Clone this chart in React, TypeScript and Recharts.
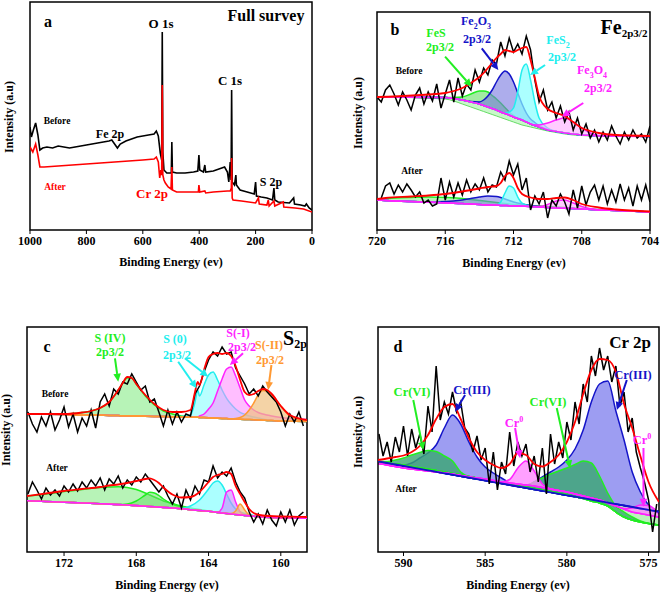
import React from 'react';
import { ComposedChart, Line, Area, XAxis, YAxis, ReferenceArea, ReferenceLine } from 'recharts';

const FONT = '"Liberation Serif", "Times New Roman", serif';
const RED = '#ff0000';
const GREEN = '#22ee22';
const BLUE = '#1414c8';
const CYAN = '#22eeee';
const MAGENTA = '#ff22ff';
const ORANGE = '#ff9933';

// ---------- (a) full survey ----------
const surveyTicks = [1000, 800, 600, 400, 200, 0];
const surveyBeforeE = [1000, 995, 988, 980, 972, 965, 955, 940, 920, 900, 880, 860, 840, 820, 800, 780, 760, 740, 720, 710, 700, 690, 680, 660, 640, 620, 600, 580, 560, 552, 545, 538, 533, 531, 529, 525, 515, 505, 499, 497, 495, 480, 450, 420, 405, 401, 398, 385, 380, 377, 350, 320, 310, 300, 295, 290, 287, 285, 283, 275, 270, 268, 255, 230, 205, 200, 197, 180, 160, 140, 135, 132, 120, 80, 65, 62, 40, 25, 20, 10, 0];
const surveyBeforeI = [103, 93, 100, 107, 95, 80, 82, 83, 82, 84, 83, 82, 83, 84, 85, 86, 87, 88, 89, 90, 86, 82, 86, 89, 91, 93, 94, 95, 96, 99, 94, 77, 70, 198, 78, 60, 57, 57, 57, 88, 58, 57, 57, 58, 59, 75, 60, 58, 65, 58, 59, 62, 63, 58, 48, 68, 50, 140, 48, 45, 55, 45, 40, 38, 36, 48, 34, 33, 32, 30, 42, 30, 28, 27, 32, 26, 25, 24, 26, 22, 20];
const surveyAfterE = [1000, 990, 980, 972, 965, 950, 900, 850, 800, 750, 700, 650, 600, 560, 552, 545, 540, 536, 533, 531, 529, 525, 520, 510, 500, 497, 495, 480, 450, 420, 403, 401, 398, 380, 377, 350, 300, 290, 286, 285, 283, 280, 250, 200, 190, 187, 160, 155, 152, 135, 132, 102, 100, 60, 30, 0];
const surveyAfterI = [83, 78, 86, 75, 63, 63, 64, 65, 66, 67, 68, 69, 70, 71, 73, 68, 52, 60, 55, 145, 55, 50, 47, 43, 41, 63, 40, 38, 38, 38, 38, 45, 38, 39, 37, 38, 39, 39, 42, 72, 32, 30, 29, 27, 32, 26, 25, 30, 24, 29, 24, 28, 23, 22, 21, 18];

// ---------- (b) Fe 2p3/2 ----------
const feTicks = [720, 716, 712, 708, 704];
const feBeforeRaw = [[720, 133], [719.75, 128], [719.5, 140], [719.25, 145], [719, 136], [718.75, 125], [718.5, 138], [718.25, 130], [718, 120], [717.75, 135], [717.5, 142], [717.25, 126], [717, 138], [716.75, 129], [716.5, 146], [716.25, 122], [716, 136], [715.75, 150], [715.5, 128], [715.25, 152], [715, 134], [714.75, 146], [714.5, 140], [714.25, 160], [714, 148], [713.75, 162], [713.5, 155], [713.25, 170], [713, 166], [712.75, 188], [712.5, 174], [712.25, 192], [712, 178], [711.75, 186], [711.5, 176], [711.25, 194], [711, 180], [710.75, 150], [710.5, 128], [710.25, 140], [710, 120], [709.75, 128], [709.5, 112], [709.25, 124], [709, 108], [708.75, 118], [708.5, 100], [708.25, 112], [708, 96], [707.75, 106], [707.5, 92], [707.25, 100], [707, 88], [706.75, 98], [706.5, 90], [706.25, 104], [706, 94], [705.75, 86], [705.5, 98], [705.25, 90], [705, 100], [704.75, 92], [704.5, 96], [704.25, 88], [704, 104]];
const feAfterRaw = [[719.75, 32], [719.5, 44], [719.25, 47], [719, 36], [718.75, 45], [718.5, 38], [718.25, 46], [718, 40], [717.75, 33], [717.5, 38], [717.25, 27], [717, 30], [716.75, 24], [716.5, 26], [716.25, 52], [716, 30], [715.75, 48], [715.5, 33], [715.25, 47], [715, 35], [714.75, 50], [714.5, 38], [714.25, 46], [714, 40], [713.75, 52], [713.5, 38], [713.25, 45], [713, 43], [712.75, 58], [712.5, 50], [712.25, 69], [712, 55], [711.75, 66], [711.5, 40], [711.25, 52], [711, 20], [710.75, 34], [710.5, 26], [710.25, 38], [710, 12], [709.75, 30], [709.5, 24], [709.25, 36], [709, 28], [708.75, 16], [708.5, 40], [708.25, 22], [708, 44], [707.75, 25], [707.5, 38], [707.25, 45], [707, 30], [706.75, 44], [706.5, 26], [706.25, 40], [706, 28], [705.75, 46], [705.5, 30], [705.25, 42], [705, 24], [704.75, 44], [704.5, 30], [704.25, 45], [704, 28]];
const feBE = [720, 716, 715.5, 715, 714.5, 714, 713.75, 713.5, 713.25, 713, 712.75, 712.5, 712.25, 712, 711.75, 711.5, 711.25, 711, 710.75, 710.5, 710, 709.5, 709, 708.5, 708, 707.5, 707, 706, 704];
const feBg = [133, 132.5, 131.5, 130, 128, 126, 124.5, 123, 121.5, 120, 118, 116.5, 115, 113, 111.5, 110, 108, 106, 104.5, 103, 100, 98.5, 97, 96, 95, 94.5, 94, 94, 93.5];
const feLowBg = [133, 131, 129, 126, 123, 120, 118.5, 117, 115.5, 114, 112.5, 111, 109.5, 108, 106.5, 105, 104, 103, 102, 101, 99, 97.5, 96, 95, 94.5, 94, 93.8, 93.6, 93.5];
const feFeS = [133, 132.5, 132.5, 133, 136, 139, 139, 138, 134.5, 131, 127, 122.5, 118, 114.5, 111.5, 110, 108, 106, 104.5, 103, 100, 98.5, 97, 96, 95, 94.5, 94, 94, 93.5];
const feFe2O3 = [133, 132.5, 131.5, 130, 128.5, 128, 130, 134, 140, 148, 155, 159, 156, 148, 137, 126, 117, 111, 107.5, 104.5, 100.5, 98.5, 97, 96, 95, 94.5, 94, 94, 93.5];
const feFeS2 = [133, 132.5, 131.5, 130, 128, 126, 124.5, 123, 121.5, 120, 118, 117, 118, 122, 138, 160, 166, 150, 128, 112, 102, 98.5, 97, 96, 95, 94.5, 94, 94, 93.5];
const feFe3O4 = [133, 132.5, 131.5, 130, 128, 126, 124.5, 123, 121.5, 120, 118, 116.5, 115, 113, 111.5, 110, 108, 106, 105, 105, 107, 110, 112, 108, 102, 97, 94.5, 94, 93.5];
const feFitB = [133, 137, 139, 142, 147, 153, 157, 162, 167, 172, 176, 180, 179, 178, 180, 182, 183, 170, 152, 134, 121, 117, 114, 108, 102, 99, 97, 95, 94];
const feAE = [720, 719.5, 718, 717, 716, 715, 714.5, 714, 713.5, 713, 712.75, 712.5, 712.25, 712, 711.75, 711.5, 711, 710.5, 710, 709.5, 709, 708.5, 708, 707, 706, 704];
const feBaseA = [30, 29.5, 28.5, 28, 27, 26.5, 26, 25.5, 25, 24.8, 24.6, 24.5, 24.3, 24.2, 24, 23.8, 23.5, 23, 22.5, 22, 21.8, 21.5, 21, 20, 19.5, 18];
const feGreenA = [31, 31.5, 32.5, 33, 32.5, 31.5, 30.5, 29.5, 28.5, 27.5, 27, 26.5, 26, 25.5, 25.2, 25, 24.5, 24, 23.5, 23, 22.5, 22, 21.5, 20.5, 19.8, 18];
const feBlueA = [30, 29.5, 28.5, 28.3, 28.5, 30, 31.5, 33, 34, 33.5, 32.5, 31, 29.5, 28, 27, 26, 24.5, 23.5, 22.8, 22.2, 21.8, 21.5, 21, 20, 19.5, 18];
const feCyanA = [30, 29.5, 28.5, 28, 27, 26.5, 26, 25.5, 25, 25, 28, 37, 44, 42, 33, 27, 24, 23, 22.5, 22, 21.8, 21.5, 21, 20, 19.5, 18];
const feMagA = [30, 29.5, 28.5, 28, 27, 26.5, 26, 25.5, 25, 24.8, 24.6, 24.5, 24.3, 24.2, 24, 23.8, 23.5, 23.5, 25.5, 29, 30, 27, 23.5, 20.3, 19.5, 18];
const feFitA = [31, 32, 33.5, 34.5, 36, 38.5, 40, 41.5, 43, 44, 47, 54, 57, 52, 42, 36, 32.5, 31, 31, 32, 32.5, 30, 26, 22.5, 20.5, 18.5];

// ---------- (c) S 2p ----------
const sTicks = [172, 168, 164, 160];
const sBeforeRaw = [[174, 140], [173.75, 128], [173.5, 120], [173.25, 135], [173, 126], [172.75, 140], [172.5, 122], [172.25, 132], [172, 145], [171.75, 125], [171.5, 138], [171.25, 120], [171, 134], [170.75, 126], [170.5, 142], [170.25, 124], [170, 150], [169.75, 158], [169.5, 146], [169.25, 163], [169, 158], [168.75, 170], [168.5, 168], [168.25, 178], [168, 170], [167.75, 162], [167.5, 166], [167.25, 150], [167, 153], [166.75, 140], [166.5, 126], [166.25, 142], [166, 128], [165.75, 140], [165.5, 130], [165.25, 138], [165, 136], [164.75, 158], [164.5, 166], [164.25, 180], [164, 192], [163.75, 200], [163.5, 196], [163.25, 205], [163, 198], [162.75, 200], [162.5, 184], [162.25, 176], [162, 168], [161.75, 158], [161.5, 163], [161.25, 156], [161, 166], [160.75, 160], [160.5, 155], [160.25, 150], [160, 140], [159.75, 126], [159.5, 138], [159.25, 130], [159, 140], [158.75, 126]];
const sAfterRaw = [[174, 58], [173.75, 70], [173.5, 62], [173.25, 53], [173, 64], [172.75, 57], [172.5, 62], [172.25, 56], [172, 66], [171.75, 60], [171.5, 68], [171.25, 61], [171, 70], [170.75, 64], [170.5, 72], [170.25, 66], [170, 74], [169.75, 62], [169.5, 73], [169.25, 68], [169, 76], [168.75, 64], [168.5, 72], [168.25, 67], [168, 75], [167.75, 70], [167.5, 78], [167.25, 72], [167, 66], [166.75, 60], [166.5, 66], [166.25, 56], [166, 48], [165.75, 58], [165.5, 44], [165.25, 62], [165, 52], [164.75, 66], [164.5, 58], [164.25, 72], [164, 70], [163.75, 86], [163.5, 74], [163.25, 80], [163, 76], [162.75, 84], [162.5, 70], [162.25, 60], [162, 54], [161.75, 40], [161.5, 30], [161.25, 38], [161, 28], [160.75, 42], [160.5, 32], [160.25, 26], [160, 40], [159.75, 30], [159.5, 42], [159.25, 27], [159, 36], [158.75, 40]];
const sBE = [174.05, 172, 171, 170.5, 170, 169.5, 169, 168.75, 168.5, 168.25, 168, 167.5, 167, 166.5, 166, 165.5, 165, 164.75, 164.6, 164.5, 164.25, 164, 163.75, 163.5, 163.25, 163, 162.75, 162.5, 162.25, 162, 161.75, 161.5, 161.25, 161, 160.75, 160.5, 160, 159.5, 158.55];
const sBgB = [138, 137.5, 137, 137, 136.8, 136.6, 136.4, 136.3, 136.2, 136.1, 136, 135.8, 135.6, 135.4, 135.2, 135, 134.8, 134.7, 134.65, 134.6, 134.4, 134.2, 134, 133.8, 133.6, 133.4, 133.2, 133, 132.8, 132.6, 132.4, 132.2, 132, 131.8, 131.6, 131.4, 131, 130.8, 130.5];
const sIVB = [138, 138, 139.5, 141, 144, 150, 162, 169, 174, 174, 168, 156, 147, 141, 138, 136, 134.8, 134.7, 134.65, 134.6, 134.4, 134.2, 134, 133.8, 133.6, 133.4, 133.2, 133, 132.8, 132.6, 132.4, 132.2, 132, 131.8, 131.6, 131.4, 131, 130.8, 130.5];
const s0B = [138, 137.5, 137, 137, 136.8, 136.6, 136.4, 136.3, 136.2, 136.1, 136, 135.8, 135.6, 135.4, 135.2, 135.5, 137, 150, 162, 156, 167, 177, 180, 172, 162, 153.7, 147.7, 143, 139.7, 137.7, 136, 135, 134, 133, 132.2, 131.6, 131, 130.8, 130.5];
const sM1B = [138, 137.5, 137, 137, 136.8, 136.6, 136.4, 136.3, 136.2, 136.1, 136, 135.8, 135.6, 135.4, 135.2, 135, 134.8, 134.7, 134.65, 136, 138, 143, 149, 161, 173, 183, 185, 176, 164, 152, 146, 142, 139.5, 138, 137, 136, 134.5, 133.5, 132.5];
const sM2B = [138, 137.5, 137, 137, 136.8, 136.6, 136.4, 136.3, 136.2, 136.1, 136, 135.8, 135.6, 135.4, 135.2, 135, 134.8, 134.7, 134.65, 134.6, 134.4, 134.2, 134, 133.8, 133.6, 133.4, 133.2, 133.5, 134.5, 137, 142, 149, 157, 161.5, 161, 157, 146, 136, 131];
const sFitB = [138, 138, 139.5, 141, 144, 150, 162, 169, 175, 174, 168, 157, 148, 142, 140, 140, 142, 160, 170, 167, 182, 195, 198, 199, 198, 199, 196, 186, 172, 160, 157, 158, 161, 163, 162, 158, 146, 137, 132];
const sAE = [174.05, 173, 172, 171, 170, 169.5, 169, 168.5, 168, 167.5, 167.25, 167, 166.75, 166.5, 166, 165.5, 165, 164.5, 164, 163.75, 163.5, 163.25, 163, 162.75, 162.5, 162.25, 162, 161.75, 161.5, 161, 160, 159, 158.55];
const sBaseA = [51.3, 50.5, 49.8, 49, 48.3, 47.9, 47.4, 47, 46.4, 45.8, 45.5, 45.2, 44.9, 44.6, 44, 43.2, 42.3, 41.5, 40.7, 40.2, 39.6, 39, 38.5, 38, 37.5, 37, 36.6, 36.2, 35.8, 35, 34.3, 33.9, 33.7];
const sIVBroadA = [56, 58, 60.5, 62.5, 64.5, 65, 65.3, 64.5, 62.5, 59, 57, 55, 53, 51, 48.5, 46, 44, 42.5, 41, 40.2, 39.6, 39, 38.5, 38, 37.5, 37, 36.6, 36.2, 35.8, 35, 34.3, 33.9, 33.7];
const sIVNarrowA = [51.3, 50.5, 49.8, 49, 48.3, 47.9, 47.4, 48, 51, 57, 59.7, 59, 56.5, 53, 48, 45, 42.5, 41.5, 40.7, 40.2, 39.6, 39, 38.5, 38, 37.5, 37, 36.6, 36.2, 35.8, 35, 34.3, 33.9, 33.7];
const s0A = [51.3, 50.5, 49.8, 49, 48.3, 47.9, 47.4, 47, 46.4, 45.8, 45.5, 45.2, 44.9, 44.6, 44, 43.5, 46, 52, 63, 69, 71, 67, 58, 49, 43, 40, 38.5, 37.5, 36.5, 35.3, 34.3, 33.9, 33.7];
const sM1A = [51.3, 50.5, 49.8, 49, 48.3, 47.9, 47.4, 47, 46.4, 45.8, 45.5, 45.2, 44.9, 44.6, 44, 43.2, 42.3, 41.5, 40.7, 40.2, 39.8, 44, 60, 62, 50, 40, 37, 36.2, 35.8, 35, 34.3, 33.9, 33.7];
const sM2A = [51.3, 50.5, 49.8, 49, 48.3, 47.9, 47.4, 47, 46.4, 45.8, 45.5, 45.2, 44.9, 44.6, 44, 43.2, 42.3, 41.5, 40.7, 40.2, 39.6, 39, 38.5, 38.5, 41, 48, 42, 37, 35.8, 35, 34.3, 33.9, 33.7];
const sFitA = [56, 58.5, 61, 63, 65, 66.5, 67.5, 69, 71, 73, 73.7, 72, 69, 64.5, 57.5, 54.5, 55, 60, 70, 75, 77, 78, 80, 78, 66, 58, 50, 43, 39, 36.5, 35.5, 35.2, 35];

// ---------- (d) Cr 2p ----------
const crTicks = [590, 585, 580, 575];
const crRaw = [[591.5, 118], [591.25, 96], [591, 110], [590.75, 90], [590.5, 115], [590.25, 100], [590, 126], [589.75, 96], [589.5, 123], [589.25, 104], [589, 118], [588.75, 98], [588.5, 146], [588.25, 120], [588, 186], [587.75, 132], [587.5, 150], [587.25, 138], [587, 160], [586.75, 140], [586.5, 150], [586.25, 124], [586, 118], [585.75, 100], [585.5, 116], [585.25, 92], [585, 104], [584.75, 68], [584.5, 100], [584.25, 62], [584, 90], [583.75, 78], [583.5, 120], [583.25, 86], [583, 110], [582.75, 96], [582.5, 108], [582.25, 80], [582, 96], [581.75, 70], [581.5, 104], [581.25, 58], [581, 118], [580.75, 88], [580.5, 110], [580.25, 94], [580, 130], [579.75, 112], [579.5, 150], [579.25, 128], [579, 168], [578.75, 150], [578.5, 196], [578.25, 176], [578, 204], [577.75, 182], [577.5, 196], [577.25, 170], [577, 186], [576.75, 146], [576.5, 160], [576.25, 120], [576, 134], [575.75, 100], [575.5, 84], [575.25, 70], [575, 52], [574.75, 20], [574.5, 48]];
const crE = [591.56, 591, 590.5, 590, 589.5, 589, 588.5, 588, 587.5, 587, 586.5, 586, 585.5, 585, 584.5, 584, 583.5, 583, 582.5, 582, 581.5, 581, 580.5, 580, 579.5, 579, 578.5, 578, 577.5, 577, 576.5, 576, 575.5, 575, 574.36];
const crBlueBase = [90.6, 89, 87.5, 86.1, 84.6, 83.1, 81.7, 80.2, 78.7, 77.3, 75.8, 74.3, 72.9, 71.4, 69.9, 68.5, 67, 65.5, 64.1, 62.6, 61.1, 59.7, 58.2, 56.7, 55.3, 53.8, 52.3, 50.9, 49.4, 47.9, 46.5, 45, 43.5, 42.1, 40.2];
const crGreenBase = [90.5, 89, 88, 87, 85.5, 84, 83, 81.5, 80, 78.5, 77, 75.5, 74, 72.5, 71, 69.5, 68, 66.5, 65, 63.5, 62, 60.5, 59, 57.5, 55.5, 53.5, 51, 49, 46, 40, 35, 32, 30, 28.5, 27];
const crMagBase = [88.5, 87, 85.5, 84, 83, 82, 81, 80, 79, 78, 76.5, 75, 74, 73, 71.5, 70, 69, 68, 67, 66, 64.5, 63, 61.5, 60, 58, 56, 54, 52, 49, 46, 43, 40, 38.5, 37, 35];
const cr6L = [91, 90.5, 92, 94, 97, 99.5, 101.5, 100.5, 96, 91, 80, 75.5, 74, 72.5, 71, 69.5, 68, 66.5, 65, 63.5, 62, 60.5, 59, 57.5, 55.5, 53.5, 51, 49, 46, 40, 35, 32, 30, 28.5, 27];
const cr3L = [90.6, 89, 88, 87, 89, 94, 99, 107, 124, 137, 128, 110, 95, 85, 79, 74, 69, 66, 64.1, 62.6, 61.1, 59.7, 58.2, 56.7, 55.3, 53.8, 52.3, 50.9, 49.4, 47.9, 46.5, 45, 43.5, 42.1, 40.2];
const cr0L = [88.5, 87, 85.5, 84, 83, 82, 81, 80, 79, 78, 76.5, 75, 74, 73, 71.5, 70, 72.5, 84, 91, 81, 68, 63, 61.5, 60, 58, 56, 54, 52, 49, 46, 43, 40, 38.5, 37, 35];
const cr6R = [90.5, 89, 88, 87, 85.5, 84, 83, 81.5, 80, 78.5, 77, 75.5, 74, 72.5, 71, 69.5, 68, 66.5, 67, 70, 74, 78, 81, 84, 87.5, 91, 89, 76, 59, 46, 40, 35, 31, 28.5, 27];
const cr3R = [90.6, 89, 87.5, 86.1, 84.6, 83.1, 81.7, 80.2, 78.7, 77.3, 75.8, 74.3, 72.9, 71.4, 69.9, 68.5, 67, 65.5, 66, 70, 75, 80, 85, 92, 103, 122, 150, 168, 171, 141, 112, 80, 60, 47, 40.2];
const cr0R = [88.5, 87, 85.5, 84, 83, 82, 81, 80, 79, 78, 76.5, 75, 74, 73, 71.5, 70, 69, 68, 67, 66, 64.5, 63, 61.5, 60, 58, 56, 54, 52, 49, 46, 43.5, 44, 47, 46.5, 38];
const crFit = [92, 93.5, 95, 96.5, 100, 106, 117, 133, 145, 148, 133, 114, 100, 92, 87, 84, 88, 99, 97, 88, 85.5, 90, 97, 110, 130, 158, 182, 193, 192, 180, 148, 124, 96, 70, 50];

const pts = (raw: number[][]) => raw.map(([e, v]) => ({ e, v }));
const line = (grid: number[], vals: number[]) => grid.map((e, i) => ({ e, v: vals[i] }));
const band = (grid: number[], lo: number[], hi: number[]) => grid.map((e, i) => ({ e, v: [lo[i], hi[i]] }));

const arrow = (color: string) => (p: any) => {
  const { x1, y1, x2, y2 } = p;
  const a = Math.atan2(y2 - y1, x2 - x1);
  const L = 8;
  const W = 3.8;
  const bx = x2 - L * Math.cos(a);
  const by = y2 - L * Math.sin(a);
  const head = `${x2},${y2} ${bx + W * Math.sin(a)},${by - W * Math.cos(a)} ${bx - W * Math.sin(a)},${by + W * Math.cos(a)}`;
  return (
    <g>
      <line x1={x1} y1={y1} x2={bx} y2={by} stroke={color} strokeWidth={2} />
      <polygon points={head} fill={color} />
    </g>
  );
};

function Arrow(props: { from: [number, number]; to: [number, number]; color: string }) {
  return null;
}

const tickStyle = { fontSize: 12, fontWeight: 'bold', fill: '#000', fontFamily: FONT };

function Txt({ x, y, c = '#000', s = 12, w = 'bold', children }: any) {
  return (
    <div style={{
      position: 'absolute', left: x, top: y, transform: 'translate(-50%,-50%)', color: c,
      fontSize: s, fontWeight: w, fontFamily: FONT, whiteSpace: 'nowrap', lineHeight: 1,
    }}>{children}</div>
  );
}

function YTitle({ x, y }: { x: number; y: number }) {
  return (
    <div style={{
      position: 'absolute', left: x, top: y, transform: 'translate(-50%,-50%) rotate(-90deg)',
      fontSize: 12, fontWeight: 'bold', fontFamily: FONT, whiteSpace: 'nowrap', lineHeight: 1,
    }}>Intensity (a.u)</div>
  );
}

function Panel({ left, top, width, height, margin, domain, ymax, ticks, children }: any) {
  return (
    <div style={{ position: 'absolute', left, top }}>
      <ComposedChart width={width} height={height} margin={margin}>
        <XAxis type="number" dataKey="e" domain={domain} reversed ticks={ticks} interval={0}
          allowDataOverflow tick={tickStyle} tickLine={{ stroke: '#000' }} tickSize={4}
          axisLine={false} height={20} />
        <YAxis type="number" hide domain={[0, ymax]} allowDataOverflow />
        {children}
        <ReferenceArea x1={domain[0]} x2={domain[1]} y1={0} y2={ymax} fill="none"
          stroke="#000" strokeWidth={1.5} ifOverflow="visible" />
      </ComposedChart>
    </div>
  );
}

const fill = (key: string, data: any, stroke: string, fillC: string, op = 0.55, sw = 1.5) => (
  <Area key={key} data={data} dataKey="v" type="monotone" stroke={stroke} strokeWidth={sw}
    fill={fillC} fillOpacity={op} isAnimationActive={false} dot={false} activeDot={false} />
);
const trace = (key: string, data: any, stroke: string, sw = 1.5, type: any = 'monotone') => (
  <Line key={key} data={data} dataKey="v" type={type} stroke={stroke} strokeWidth={sw}
    isAnimationActive={false} dot={false} activeDot={false} />
);
const seg = (key: string, a: number[], b: number[], color: string) => (
  <ReferenceLine key={key} segment={[{ x: a[0], y: a[1] }, { x: b[0], y: b[1] }]}
    shape={arrow(color)} ifOverflow="visible" />
);

export default function App() {
  return (
    <div style={{ position: 'absolute', left: 0, top: 0, width: 661, height: 593, background: '#fff', overflow: 'hidden' }}>
      {/* (a) survey */}
      <Panel left={0} top={0} width={330} height={290} margin={{ top: 2, right: 18, left: 30, bottom: 40 }}
        domain={[0, 1000]} ymax={228} ticks={surveyTicks}>
        {trace('sb', line(surveyBeforeE, surveyBeforeI), '#000', 1.6, 'linear')}
        {trace('sa', line(surveyAfterE, surveyAfterI), RED, 1.6, 'linear')}
      </Panel>

      {/* (b) Fe 2p3/2 */}
      <Panel left={330} top={0} width={331} height={290} margin={{ top: 12, right: 11, left: 47, bottom: 40 }}
        domain={[704, 720]} ymax={218} ticks={feTicks}>
        {fill('b0', band(feBE, feLowBg, feBg), '#66dd66', '#bbf5bb', 0.8, 1)}
        {fill('b1', band(feBE, feBg, feFeS), GREEN, '#55dd55', 0.55)}
        {fill('b2', band(feBE, feBg, feFe2O3), BLUE, '#7777e0', 0.6)}
        {fill('b3', band(feBE, feBg, feFeS2), CYAN, '#88ffff', 0.7)}
        {fill('b4', band(feBE, feBg, feFe3O4), MAGENTA, '#ffaaff', 0.6)}
        {fill('a1', band(feAE, feBaseA, feGreenA), GREEN, '#88ee88', 0.6)}
        {fill('a2', band(feAE, feBaseA, feBlueA), BLUE, '#7777e0', 0.55)}
        {fill('a3', band(feAE, feBaseA, feCyanA), CYAN, '#88ffff', 0.7)}
        {fill('a4', band(feAE, feBaseA, feMagA), MAGENTA, '#ffaaff', 0.6)}
        {trace('ab', line(feAE, feBaseA), MAGENTA, 1.5)}
        {trace('rb', pts(feBeforeRaw), '#000', 1.5, 'linear')}
        {trace('ra', pts(feAfterRaw), '#000', 1.5, 'linear')}
        {trace('fb', line(feBE, feFitB), RED, 1.8)}
        {trace('fa', line(feAE, feFitA), RED, 1.8)}
        {seg('x1', [716.01, 173.3], [714.45, 143.3], GREEN)}
        {seg('x2', [713.86, 181.7], [712.89, 160], BLUE)}
        {seg('x3', [710.15, 165], [711.03, 155], CYAN)}
        {seg('x4', [707.91, 127], [709.17, 113.3], MAGENTA)}
      </Panel>

      {/* (c) S 2p */}
      <Panel left={0} top={295} width={330} height={298} margin={{ top: 32, right: 23, left: 27, bottom: 21 }}
        domain={[158.55, 174.05]} ymax={225} ticks={sTicks}>
        {fill('c1', band(sBE, sBgB, sIVB), GREEN, '#99ee99', 0.7)}
        {fill('c2', band(sBE, sBgB, s0B), CYAN, '#88ffff', 0.6)}
        {fill('c3', band(sBE, sBgB, sM1B), MAGENTA, '#ff88ff', 0.55)}
        {fill('c4', band(sBE, sBgB, sM2B), ORANGE, '#f0c080', 0.7)}
        {trace('cbg', line(sBE, sBgB), ORANGE, 1.5)}
        {fill('d1', band(sAE, sBaseA, sIVBroadA), GREEN, '#99ee99', 0.7)}
        {fill('d2', band(sAE, sBaseA, sIVNarrowA), GREEN, '#66dd66', 0.5)}
        {fill('d3', band(sAE, sBaseA, s0A), CYAN, '#88ffff', 0.7)}
        {fill('d4', band(sAE, sBaseA, sM1A), MAGENTA, '#cc88ff', 0.6)}
        {fill('d5', band(sAE, sBaseA, sM2A), ORANGE, '#f0c080', 0.7)}
        {trace('dbg', line(sAE, sBaseA), MAGENTA, 1.6)}
        {trace('crb', pts(sBeforeRaw), '#000', 1.5, 'linear')}
        {trace('cra', pts(sAfterRaw), '#000', 1.5, 'linear')}
        {trace('cfb', line(sBE, sFitB), RED, 1.8)}
        {trace('cfa', line(sAE, sFitA), RED, 1.8)}
        {seg('y1', [169.18, 193.7], [169.0, 170.3], GREEN)}
        {seg('y2', [165.68, 190.3], [164.66, 163.7], CYAN)}
        {seg('y3', [165.31, 193.7], [164.02, 175.3], CYAN)}
        {seg('y4', [162.09, 198.7], [162.82, 187], MAGENTA)}
        {seg('y5', [160.52, 187], [160.7, 162], ORANGE)}
      </Panel>

      {/* (d) Cr 2p */}
      <Panel left={330} top={295} width={331} height={298} margin={{ top: 32, right: 2, left: 48, bottom: 21 }}
        domain={[574.36, 591.56]} ymax={225} ticks={crTicks}>
        {fill('e0', band(crE, crGreenBase, crBlueBase), GREEN, '#aaf0aa', 0.8, 1.5)}
        {fill('e1', band(crE, crBlueBase, cr3L), BLUE, '#8c8cf0', 0.85)}
        {fill('e2', band(crE, crBlueBase, cr3R), BLUE, '#8c8cf0', 0.85)}
        {fill('e3', band(crE, crGreenBase, cr6L), GREEN, '#3aa870', 0.8)}
        {fill('e4', band(crE, crGreenBase, cr6R), GREEN, '#3aa870', 0.8)}
        {fill('e5', band(crE, crMagBase, cr0L), MAGENTA, '#ff88ff', 0.8)}
        {fill('e6', band(crE, crMagBase, cr0R), MAGENTA, '#ff88ff', 0.8)}
        {trace('eb', line(crE, crBlueBase), BLUE, 1.8)}
        {trace('er', pts(crRaw), '#000', 1.5, 'linear')}
        {trace('ef', line(crE, crFit), RED, 1.8)}
        {seg('z1', [589.4, 152], [588.79, 102], GREEN)}
        {seg('z2', [586.23, 157], [586.84, 140.3], BLUE)}
        {seg('z3', [583.17, 124], [582.86, 93.7], MAGENTA)}
        {seg('z4', [580.62, 144], [579.8, 83.7], GREEN)}
        {seg('z5', [576.33, 172], [576.94, 142], BLUE)}
        {seg('z6', [575.31, 104], [575.31, 45.3], MAGENTA)}
      </Panel>

      {/* axis titles */}
      <Txt x={171} y={262}>Binding Energy (ev)</Txt>
      <Txt x={514} y={263}>Binding Energy (ev)</Txt>
      <Txt x={167} y={585}>Binding Energy (ev)</Txt>
      <Txt x={518} y={585}>Binding Energy (ev)</Txt>
      <YTitle x={9} y={117} />
      <YTitle x={358} y={113} />
      <YTitle x={6} y={430} />
      <YTitle x={358} y={432} />

      {/* (a) labels */}
      <Txt x={48} y={22} s={16}>a</Txt>
      <Txt x={161} y={23} s={13}>O 1s</Txt>
      <Txt x={266} y={16} s={16}>Full survey</Txt>
      <Txt x={230} y={80} s={13}>C 1s</Txt>
      <Txt x={57} y={122} s={9.5}>Before</Txt>
      <Txt x={110} y={134} s={12}>Fe 2p</Txt>
      <Txt x={55} y={188} s={9.5} c={RED}>After</Txt>
      <Txt x={152} y={193} s={13} c={RED}>Cr 2p</Txt>
      <Txt x={271} y={182} s={12}>S 2p</Txt>

      {/* (b) labels */}
      <Txt x={395} y={30} s={16}>b</Txt>
      <Txt x={624} y={28}><span style={{ fontSize: 20 }}>Fe</span><sub style={{ fontSize: 11 }}>2p3/2</sub></Txt>
      <Txt x={436} y={33} c={GREEN}>FeS</Txt>
      <Txt x={440} y={47} c={GREEN}>2p3/2</Txt>
      <Txt x={476} y={23} c={BLUE}>Fe<sub style={{ fontSize: 8 }}>2</sub>O<sub style={{ fontSize: 8 }}>3</sub></Txt>
      <Txt x={477} y={39} c={BLUE}>2p3/2</Txt>
      <Txt x={558} y={42} c={CYAN}>FeS<sub style={{ fontSize: 8 }}>2</sub></Txt>
      <Txt x={562} y={57} c={CYAN}>2p3/2</Txt>
      <Txt x={592} y={72} c={MAGENTA}>Fe<sub style={{ fontSize: 8 }}>3</sub>O<sub style={{ fontSize: 8 }}>4</sub></Txt>
      <Txt x={598} y={88} c={MAGENTA}>2p3/2</Txt>
      <Txt x={409} y={72} s={9.5}>Before</Txt>
      <Txt x={412} y={172} s={9.5}>After</Txt>

      {/* (c) labels */}
      <Txt x={47} y={347} s={16}>c</Txt>
      <Txt x={110} y={338} c={GREEN}>S (IV)</Txt>
      <Txt x={110} y={352} c={GREEN}>2p3/2</Txt>
      <Txt x={175} y={339} c={CYAN}>S (0)</Txt>
      <Txt x={177} y={355} c={CYAN}>2p3/2</Txt>
      <Txt x={238} y={333} c={MAGENTA}>S(-I)</Txt>
      <Txt x={242} y={347} c={MAGENTA}>2p3/2</Txt>
      <Txt x={269} y={345} c={ORANGE}>S(-II)</Txt>
      <Txt x={270} y={360} c={ORANGE}>2p3/2</Txt>
      <Txt x={295} y={339}><span style={{ fontSize: 20 }}>S</span><sub style={{ fontSize: 12 }}>2p</sub></Txt>
      <Txt x={55} y={395} s={9.5}>Before</Txt>
      <Txt x={57} y={469} s={9.5}>After</Txt>

      {/* (d) labels */}
      <Txt x={398} y={347} s={16}>d</Txt>
      <Txt x={630} y={342} s={17}>Cr 2p</Txt>
      <Txt x={412} y={392} s={12.5} c={GREEN}>Cr(VI)</Txt>
      <Txt x={472} y={390} s={12.5} c={BLUE}>Cr(III)</Txt>
      <Txt x={514} y={423} s={12.5} c={MAGENTA}>Cr<sup style={{ fontSize: 8 }}>0</sup></Txt>
      <Txt x={548} y={402} s={12.5} c={GREEN}>Cr(VI)</Txt>
      <Txt x={633} y={375} s={12.5} c={BLUE}>Cr(III)</Txt>
      <Txt x={642} y={440} s={12.5} c={MAGENTA}>Cr<sup style={{ fontSize: 8 }}>0</sup></Txt>
      <Txt x={406} y={490} s={9.5}>After</Txt>
    </div>
  );
}
